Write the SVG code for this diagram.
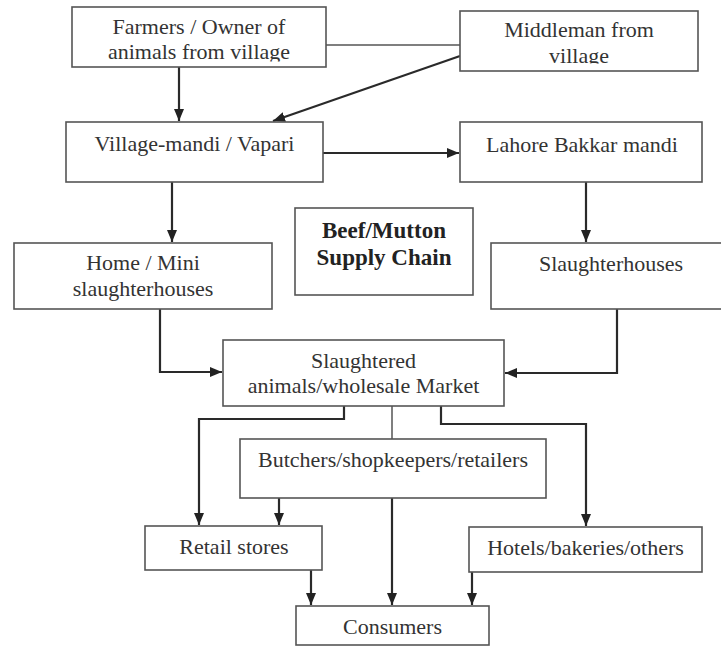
<svg xmlns="http://www.w3.org/2000/svg" width="721" height="646" viewBox="0 0 721 646">
<style>
  .box { fill: #ffffff; stroke: #555555; stroke-width: 1.6; }
  .t { font-family: "Liberation Serif", "Times New Roman", serif; font-size: 22px; fill: #333333; text-anchor: middle; }
  .b { font-weight: bold; font-size: 23px; fill: #222222; }
  .c { fill: none; stroke: #2a2a2a; stroke-width: 2.2; }
  .thin { fill: none; stroke: #555555; stroke-width: 1.5; }
</style>
<defs>
  <marker id="ah" markerUnits="userSpaceOnUse" markerWidth="13" markerHeight="11" refX="12" refY="5" orient="auto">
    <path d="M0,0 L12,5 L0,10 z" fill="#222222"/>
  </marker>
  <clipPath id="clipFarmers"><rect x="72" y="7" width="254" height="54.5"/></clipPath>
  <clipPath id="clipMiddle"><rect x="460" y="11" width="238" height="52.5"/></clipPath>
</defs>
<rect width="721" height="646" fill="#ffffff"/>

<g id="connectors">
  <path class="c" d="M179,67 V121" marker-end="url(#ah)"/>
  <path class="thin" d="M326,45 H460"/>
  <path class="c" d="M460,56 L273,121" marker-end="url(#ah)"/>
  <path class="c" d="M323,153 H459" marker-end="url(#ah)"/>
  <path class="c" d="M172,182 V242" marker-end="url(#ah)"/>
  <path class="c" d="M586,182 V242" marker-end="url(#ah)"/>
  <path class="c" d="M160,309 V372 H222" marker-end="url(#ah)"/>
  <path class="c" d="M617,309 V373 H505" marker-end="url(#ah)"/>
  <path class="c" d="M344,406 V419 H199 V525" marker-end="url(#ah)"/>
  <path class="thin" d="M392,406 V439"/>
  <path class="c" d="M441,406 V424 H586 V526" marker-end="url(#ah)"/>
  <path class="c" d="M279,498 V525" marker-end="url(#ah)"/>
  <path class="c" d="M392,498 V605" marker-end="url(#ah)"/>
  <path class="c" d="M311,570 V605" marker-end="url(#ah)"/>
  <path class="c" d="M472,572 V605" marker-end="url(#ah)"/>
</g>

<g id="farmers">
  <rect class="box" x="72" y="7" width="254" height="60"/>
  <g clip-path="url(#clipFarmers)">
    <text class="t" x="199" y="34">Farmers / Owner of</text>
    <text class="t" x="199" y="59">animals from village</text>
  </g>
</g>

<g id="middleman">
  <rect class="box" x="460" y="11" width="238" height="60"/>
  <g clip-path="url(#clipMiddle)">
    <text class="t" x="579" y="37">Middleman from</text>
    <text class="t" x="579" y="63">village</text>
  </g>
</g>

<g id="village-mandi">
  <rect class="box" x="66" y="122" width="257" height="60"/>
  <text class="t" x="194.5" y="151">Village-mandi / Vapari</text>
</g>

<g id="lahore">
  <rect class="box" x="460" y="122" width="242" height="60"/>
  <text class="t" x="582" y="152">Lahore Bakkar mandi</text>
</g>

<g id="home-mini">
  <rect class="box" x="14" y="243" width="258" height="66"/>
  <text class="t" x="143" y="270">Home / Mini</text>
  <text class="t" x="143" y="296">slaughterhouses</text>
</g>

<g id="title">
  <rect class="box" x="295" y="208" width="178" height="87"/>
  <text class="t b" x="384" y="238">Beef/Mutton</text>
  <text class="t b" x="384" y="265">Supply Chain</text>
</g>

<g id="slaughterhouses">
  <rect class="box" x="491" y="243" width="240" height="66"/>
  <text class="t" x="611" y="271">Slaughterhouses</text>
</g>

<g id="wholesale">
  <rect class="box" x="223" y="340" width="281" height="66"/>
  <text class="t" x="363.5" y="368">Slaughtered</text>
  <text class="t" x="363.5" y="393">animals/wholesale Market</text>
</g>

<g id="butchers">
  <rect class="box" x="240" y="439" width="306" height="59"/>
  <text class="t" x="393" y="467">Butchers/shopkeepers/retailers</text>
</g>

<g id="retail">
  <rect class="box" x="145" y="526" width="177" height="44"/>
  <text class="t" x="234" y="554">Retail stores</text>
</g>

<g id="hotels">
  <rect class="box" x="469" y="527" width="233" height="45"/>
  <text class="t" x="585.5" y="555">Hotels/bakeries/others</text>
</g>

<g id="consumers">
  <rect class="box" x="296" y="606" width="193" height="39"/>
  <text class="t" x="392.5" y="634">Consumers</text>
</g>
</svg>
